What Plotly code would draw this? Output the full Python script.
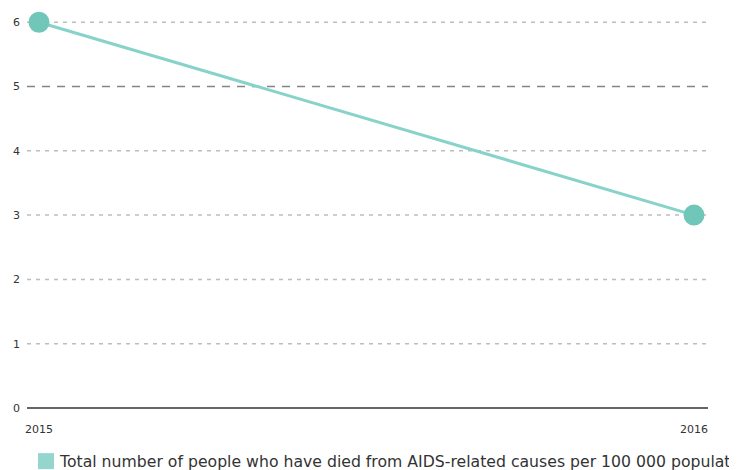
import plotly.graph_objects as go

years = [2015, 2016]
values = [6, 3]
series_name = "Total number of people who have died from AIDS-related causes per 100 000 population"
y_ticks = [0, 1, 2, 3, 4, 5, 6]
highlight_tick = 5

fig = go.Figure()
fig.add_trace(go.Scatter(
    x=years, y=values, mode="lines+markers",
    line=dict(color="#88d3c9", width=3),
    marker=dict(color="#6fc6b9", size=21),
    cliponaxis=False, showlegend=False, hoverinfo="x+y",
))

# gridlines drawn as shapes so that one of them can be styled differently
for t in y_ticks[1:]:
    if t == highlight_tick:
        ln = dict(color="#858585", width=1.6, dash="8px,7px")
    else:
        ln = dict(color="#bdbdbd", width=1.5, dash="4px,5px")
    fig.add_shape(type="line", xref="paper", x0=0, x1=1, yref="y", y0=t, y1=t,
                  line=ln, layer="below")

# manual legend (square + label)
fig.add_shape(type="rect", xref="paper", yref="paper",
              x0=0.0162, x1=0.0396, y0=-0.157, y1=-0.116,
              fillcolor="#94d6cd", line=dict(width=0))
fig.add_annotation(text=series_name, xref="paper", yref="paper",
                   x=0.0441, y=-0.1365, xanchor="left", yanchor="middle",
                   showarrow=False, font=dict(size=15.7, color="#333"))

# page body has an 8px margin, so offsets are compensated in the figure margins
fig.update_layout(
    width=737, height=470,
    margin=dict(l=19, r=37, t=11, b=70, autoexpand=False),
    paper_bgcolor="white", plot_bgcolor="white",
    font=dict(family="DejaVu Sans", size=11, color="#333"),
    showlegend=False,
    xaxis=dict(
        range=[2014.9817, 2016.0214], tickvals=years, ticktext=[str(y) for y in years],
        showgrid=False, zeroline=False, showline=False,
        ticks="outside", ticklen=11, tickcolor="rgba(0,0,0,0)",
        tickfont=dict(size=11, color="#333"), fixedrange=True,
    ),
    yaxis=dict(
        range=[0, 6.05], tickvals=y_ticks, showgrid=False,
        zeroline=True, zerolinecolor="#666", zerolinewidth=2,
        showline=False, ticks="", ticklabelstandoff=6,
        tickfont=dict(size=11, color="#333"), fixedrange=True,
    ),
)

fig.write_html("out.html")
